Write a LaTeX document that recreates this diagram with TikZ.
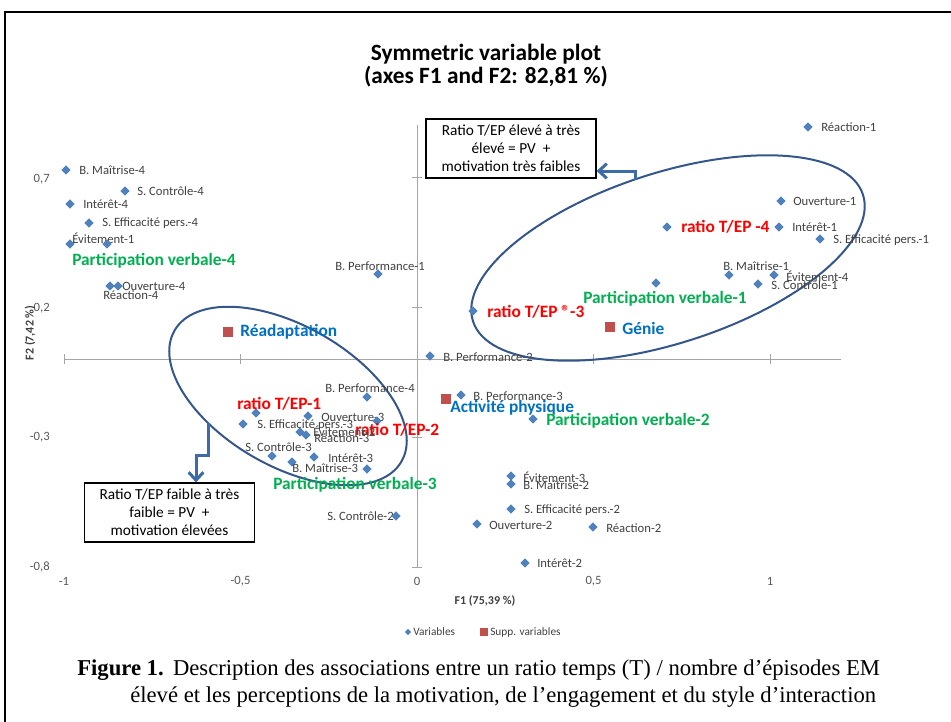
\documentclass[tikz,border=0pt]{standalone}
\usepackage{fontspec}
\setmainfont{Carlito}
\newfontfamily\capfont{Liberation Serif}
\usetikzlibrary{shapes.geometric,arrows.meta}
\definecolor{ptblue}{HTML}{4F81BD}
\definecolor{suppred}{HTML}{C0504D}
\definecolor{labgray}{HTML}{404040}
\definecolor{tickgray}{HTML}{595959}
\definecolor{axisgray}{HTML}{A6A6A6}
\definecolor{ratred}{HTML}{FF0000}
\definecolor{pvgreen}{HTML}{00B050}
\definecolor{suppblue}{HTML}{0070C0}
\definecolor{ellblue}{HTML}{34568B}
\definecolor{arrblue}{HTML}{3D6BAA}
\begin{document}
\begin{tikzpicture}[x=0.75pt,y=-0.75pt,
  var/.style={diamond, fill=ptblue, inner sep=0pt, minimum width=7pt, minimum height=7pt},
  supp/.style={rectangle, fill=suppred, inner sep=0pt, minimum size=7.5pt},
  lbl/.style={anchor=west, inner sep=0pt, text=labgray, font=\fontsize{9.5}{11}\selectfont},
  rl/.style={anchor=west, inner sep=0pt, text=ratred, font=\bfseries\fontsize{13}{15}\selectfont},
  gl/.style={anchor=west, inner sep=0pt, text=pvgreen, font=\bfseries\fontsize{13}{15}\selectfont},
  bl/.style={anchor=west, inner sep=0pt, text=suppblue, font=\bfseries\fontsize{13}{15}\selectfont},
  ticklbl/.style={inner sep=0pt, text=tickgray, font=\fontsize{9.5}{11}\selectfont},
  axisline/.style={draw=axisgray, line width=0.75pt},
  ell/.style={ellipse, draw=ellblue, line width=1.5pt, inner sep=0pt},
  callout/.style={draw=black, fill=white, line width=0.8pt, inner sep=0pt, align=center,
    minimum width=127.5pt, minimum height=44.25pt, font=\fontsize{11.5}{13.5}\selectfont},
  arrowline/.style={draw=arrblue, line width=2.25pt, -{Straight Barb[length=6pt,width=11pt]}},
  captext/.style={inner sep=0pt, anchor=base west, font=\capfont\fontsize{17}{20}\selectfont}
]
\useasboundingbox (0,0) rectangle (951,722);
\draw[line width=1.5pt] (5,722) -- (5,12) -- (951,12);

% title
\node[font=\bfseries\fontsize{17.5}{20}\selectfont, inner sep=0pt, anchor=base] (t1) at (486,60) {Symmetric variable plot};
\node[font=\bfseries\fontsize{17.5}{20}\selectfont, inner sep=0pt, anchor=base] (t2) at (486,83) {(axes F1 and F2: 82,81 \%)};

% axes
\draw[axisline] (64,359) -- (841,359);
\draw[axisline] (417,567) -- (417,125);
\foreach \xx in {64,240.5,417,593.5,770} \draw[axisline] (\xx,354) -- (\xx,364);
\foreach \yy in {567,437,307,177} \draw[axisline] (412,\yy) -- (422,\yy);
\node[ticklbl, anchor=east] (y07) at (50,179) {0,7};
\node[ticklbl, anchor=east] (y02) at (50,308) {0,2};
\node[ticklbl, anchor=east] (ym03) at (50,437) {-0,3};
\node[ticklbl, anchor=east] (ym08) at (50,567) {-0,8};
\node[ticklbl] (xm1) at (64,581) {-1};
\node[ticklbl] (xm05) at (240.5,581) {-0,5};
\node[ticklbl] (x0) at (417,581) {0};
\node[ticklbl] (x05) at (593.5,581) {0,5};
\node[ticklbl] (x1) at (770,581) {1};
\node[inner sep=0pt, font=\bfseries\fontsize{9}{11}\selectfont, text=labgray] (f1) at (485,601) {F1 (75,39 \%)};
\node[inner sep=0pt, font=\bfseries\fontsize{9}{11}\selectfont, text=labgray, rotate=90] (f2) at (30,333) {F2 (7,42 \%)};

% ellipses
\node[ell, minimum width=307.5pt, minimum height=127.5pt, rotate=18] (ellA) at (668,258) {};
\node[ell, minimum width=196.5pt, minimum height=105pt, rotate=-30] (ellB) at (288,396) {};

% callout boxes and arrows
\node[callout] (topbox) at (511,148.5) {Ratio T/EP élevé à très\\élevé = PV\ \ +\\motivation très faibles};
\node[callout] (botbox) at (169.5,512.5) {Ratio T/EP faible à très\\faible = PV\ \ +\\motivation élevées};
\coordinate (a1s) at (635,180);
\coordinate (a1k) at (635,171);
\draw[arrowline] (a1s) -- (a1k) -- (a1k -| topbox.east);
\coordinate (a2s) at (208,423);
\coordinate (a2k) at (208,455);
\coordinate (a2m) at (196,455);
\draw[arrowline] (a2s) -- (a2k) -- (a2m) -- (a2m |- botbox.north);

% points: upper left
\node[var] (bm4) at (66,170) {};   \node[lbl] (bm4l) at (79,170) {B. Maîtrise-4};
\node[var] (sc4) at (125,191) {};  \node[lbl] (sc4l) at (137,191) {S. Contrôle-4};
\node[var] (in4) at (70,204) {};   \node[lbl] (in4l) at (83,204) {Intérêt-4};
\node[var] (se4) at (89,223) {};   \node[lbl] (se4l) at (102,223) {S. Efficacité pers.-4};
\node[var] (ev1) at (70,244) {};   \node[lbl] (ev1l) at (72,238) {Évitement-1};
\node[var] (pv4) at (107,244) {};  \node[gl] (pv4l) at (72,261) {Participation verbale-4};
\node[var] (re4) at (110,286) {};  \node[lbl] (re4l) at (103,295) {Réaction-4};
\node[var] (ou4) at (118,286) {};  \node[lbl] (ou4l) at (122,286) {Ouverture-4};

% middle top
\node[var] (bp1) at (378,274) {};  \node[lbl] (bp1l) at (335,266) {B. Performance-1};
\node[var] (r3) at (473,311) {};   \node[rl] (r3l) at (487,312) {ratio T/EP ®-3};
\node[supp] (genie) at (610,327) {}; \node[bl] (geniel) at (622,328) {Génie};
\node[var] (bp2) at (430,356) {};  \node[lbl] (bp2l) at (443,357) {B. Performance-2};

% upper right
\node[var] (re1) at (808,127) {};  \node[lbl] (re1l) at (821,127) {Réaction-1};
\node[var] (ou1) at (781,201) {};  \node[lbl] (ou1l) at (793,201) {Ouverture-1};
\node[var] (in1) at (779,227) {};  \node[lbl] (in1l) at (792,227) {Intérêt-1};
\node[var] (r4) at (667,227) {};   \node[rl] (r4l) at (681,227) {ratio T/EP -4};
\node[var] (se1) at (820,239) {};  \node[lbl] (se1l) at (833,240) {S. Efficacité pers.-1};
\node[var] (bm1) at (729,275) {};  \node[lbl] (bm1l) at (723,266) {B. Maîtrise-1};
\node[var] (ev4) at (774,275) {};  \node[lbl] (ev4l) at (786,276) {Évitement-4};
\node[var] (sc1) at (758,284) {};  \node[lbl] (sc1l) at (771,285) {S. Contrôle-1};
\node[var] (pv1) at (656,283) {};  \node[gl] (pv1l) at (583,299) {Participation verbale-1};

% lower left cluster
\node[supp] (read) at (228,332) {}; \node[bl] (readl) at (240,332) {Réadaptation};
\node[var] (bp4) at (367,397) {};  \node[lbl] (bp4l) at (325,388) {B. Performance-4};
\node[var] (r1) at (256,413) {};   \node[rl] (r1l) at (237,404) {ratio T/EP-1};
\node[var] (ou3) at (308,416) {};  \node[lbl] (ou3l) at (321,417) {Ouverture-3};
\node[var] (r2) at (377,421) {};   \node[rl] (r2l) at (355,430) {ratio T/EP-2};
\node[var] (se3) at (243,424) {};  \node[lbl] (se3l) at (257,425) {S. Efficacité pers.-3};
\node[var] (ev2) at (300,432) {};  \node[lbl] (ev2l) at (313,431) {Évitement-2};
\node[var] (re3) at (306,435) {};  \node[lbl] (re3l) at (314,438) {Réaction-3};
\node[var] (sc3) at (272,456) {};  \node[lbl] (sc3l) at (245,447) {S. Contrôle-3};
\node[var] (bm3) at (292,462) {};  \node[lbl] (bm3l) at (292,468) {B. Maîtrise-3};
\node[var] (in3) at (314,457) {};  \node[lbl] (in3l) at (328,458) {Intérêt-3};
\node[var] (pv3) at (367,469) {};  \node[gl] (pv3l) at (273,485) {Participation verbale-3};

% lower middle
\node[supp] (act) at (446,399) {}; \node[bl] (actl) at (450,408) {Activité physique};
\node[var] (bp3) at (461,395) {};  \node[lbl] (bp3l) at (473,396) {B. Performance-3};
\node[var] (pv2) at (533,419) {};  \node[gl] (pv2l) at (546,421) {Participation verbale-2};
\node[var] (ev3) at (511,476) {};  \node[lbl] (ev3l) at (523,477) {Évitement-3};
\node[var] (bm2) at (511,484) {};  \node[lbl] (bm2l) at (523,485) {B. Maîtrise-2};
\node[var] (se2) at (511,509) {};  \node[lbl] (se2l) at (524,510) {S. Efficacité pers.-2};
\node[var] (ou2) at (477,524) {};  \node[lbl] (ou2l) at (489,525) {Ouverture-2};
\node[var] (re2) at (593,527) {};  \node[lbl] (re2l) at (606,528) {Réaction-2};
\node[lbl] (sc2l) at (327,516) {S. Contrôle-2}; \node[var] (sc2) at (396,516) {};
\node[var] (in2) at (525,563) {};  \node[lbl] (in2l) at (537,563) {Intérêt-2};

% legend
\node[var, minimum width=5pt, minimum height=5pt] (legv) at (408,632) {};
\node[lbl, font=\fontsize{8.5}{10}\selectfont] (legvl) at (413,632) {Variables};
\node[supp, minimum size=5.5pt] (legs) at (484,632) {};
\node[lbl, font=\fontsize{8.5}{10}\selectfont] (legsl) at (490,632) {Supp. variables};

% caption
\node[captext] (cap1) at (77,675) {\textbf{Figure 1.}\hspace{7pt}Description des associations entre un ratio temps (T) / nombre d’épisodes EM};
\node[captext] (cap2) at (130,702) {élevé et les perceptions de la motivation, de l’engagement et du style d’interaction};
\end{tikzpicture}
\end{document}
